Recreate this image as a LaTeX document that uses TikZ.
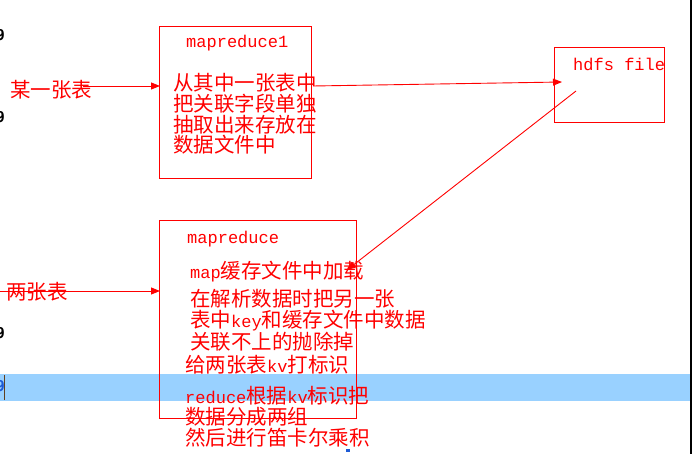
\documentclass[tikz,border=0pt]{standalone}
\usepackage{fontspec}
\setmainfont{Noto Sans CJK SC}
\newfontfamily\latfont{Liberation Mono}[Scale=0.83]
\newfontfamily\numfont{DejaVu Sans Mono}
\usetikzlibrary{arrows.meta, positioning, calc}
\definecolor{mRed}{HTML}{FF0000}
\definecolor{mBand}{HTML}{99D1FF}
\definecolor{mBlue}{HTML}{1E5BD6}
\newcommand{\lat}[1]{{\latfont #1}}

\begin{document}
\begin{tikzpicture}[x=1pt, y=-1pt, >={Triangle[length=9pt, width=7pt]},
      box/.style={draw=mRed, line width=1.2pt, inner sep=0pt, anchor=north west},
      txt/.style={text=mRed, inner sep=0pt, anchor=west, align=left,
                  font=\fontsize{20.5}{20.8}\selectfont},
      arr/.style={->, draw=mRed, line width=0.9pt},
      num/.style={inner sep=0pt, anchor=east, font=\numfont\bfseries\fontsize{15}{15}\selectfont}]
    \useasboundingbox (0,0) rectangle (692,454);
    % editor background
    \fill[mBand] (0,374) rectangle (692,401);
    \foreach \y in {35,117,333} \node[num] (n\y) at (5,\y) {9};
    \node[num, text=mBlue] (n383) at (5,386) {9};
    \draw[brown!50!black, line width=1pt] (4.5,375) -- (4.5,400);
    \draw[black, line width=1.5pt] (690.8,0) -- (690.8,454);
    \fill[mBlue] (346,449) rectangle (350,452);
    % boxes
    \node[box, minimum width=152pt, minimum height=152pt] (mr1) at (159,26) {};
    \node[box, minimum width=110pt, minimum height=75pt] (hdfs) at (554,47) {};
    \node[box, minimum width=197pt, minimum height=198pt] (mr2) at (159,220) {};
    % texts
    \node[txt] (t1) at (186,43.5) {\lat{mapreduce1}};
    \node[txt] (s1) at (173,114) {从其中一张表中\\把关联字段单独\\抽取出来存放在\\数据文件中};
    \node[txt] (hf) at (573,64) {\lat{hdfs file}};
    \node[txt] (t2) at (187,239) {\lat{mapreduce}};
    \node[txt] (s2) at (190,272) {\lat{map}缓存文件中加载};
    \node[txt, font=\fontsize{20.5}{21.5}\selectfont] (s3) at (190,320)
      {在解析数据时把另一张\\表中\lat{key}和缓存文件中数据\\关联不上的抛除掉};
    \node[txt] (s4) at (185,365) {给两张表\lat{kv}打标识};
    \node[txt, font=\fontsize{20.5}{21}\selectfont] (s5) at (185,416.5)
      {\lat{reduce}根据\lat{kv}标识把\\数据分成两组\\然后进行笛卡尔乘积};
    \node[txt] (in1) at (10,90) {某一张表};
    \node[txt] (in2) at (6,292) {两张表};
    % connectors
    \coordinate (a1) at (83,86);
    \coordinate (b1) at (160,86);
    \coordinate (a2) at (0,291);
    \coordinate (b2) at (160,291);
    \coordinate (c1) at (313,86);
    \coordinate (c2) at (562,82);
    \coordinate (d1) at (576,91);
    \coordinate (d2) at (347,270);
    \draw[arr] (a1) -- (b1);
    \draw[arr] (a2) -- (b2);
    \draw[arr] (c1) -- (c2);
    \draw[arr] (d1) -- (d2);
  \end{tikzpicture}
\end{document}
